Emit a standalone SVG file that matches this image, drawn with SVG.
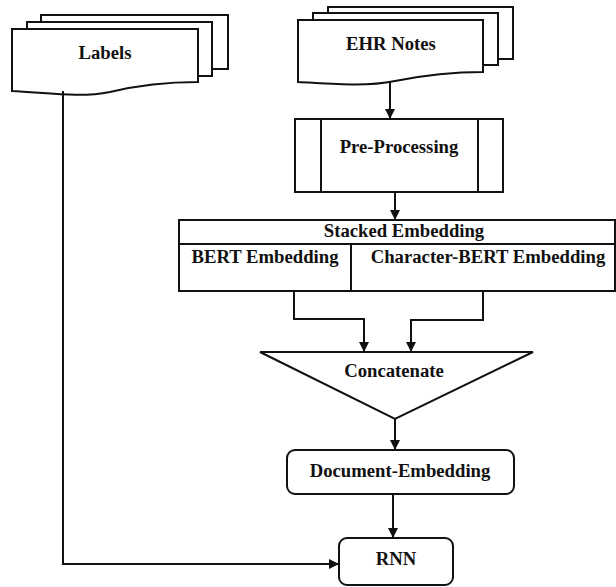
<svg xmlns="http://www.w3.org/2000/svg" width="616" height="587" viewBox="0 0 616 587">
<style>
.s{fill:#fff;stroke:#111;stroke-width:2}
.t{font-family:"Liberation Serif","Times New Roman",serif;font-weight:bold;font-size:18.7px;fill:#111;text-anchor:middle}
.c{fill:none;stroke:#111;stroke-width:2}
</style>
<defs>
<marker id="ah" viewBox="0 0 10 10" refX="10" refY="5" markerWidth="10" markerHeight="10" markerUnits="userSpaceOnUse" orient="auto">
<path d="M0,0 L10,5 L0,10 z" fill="#111"/>
</marker>
</defs>
<rect width="616" height="587" fill="#fff"/>
<g id="labels">
<rect class="s" x="41" y="15" width="187" height="54"/>
<rect class="s" x="27" y="22" width="185" height="54"/>
<path class="s" d="M12,29 H198 V82 C160,82 135,86 110,92 C80,98 50,93 12,91 Z"/>
<text class="t" x="105" y="59">Labels</text>
</g>
<g id="ehr">
<rect class="s" x="328" y="7" width="185" height="52"/>
<rect class="s" x="313" y="13" width="185" height="52"/>
<path class="s" d="M298,20 H483 V72 C445,72 420,76 395,81 C365,87 335,84 298,82 Z"/>
<text class="t" x="391" y="50">EHR Notes</text>
</g>
<g id="preprocessing">
<rect class="s" x="295" y="119" width="208" height="73"/>
<line class="c" x1="321" y1="119" x2="321" y2="192"/>
<line class="c" x1="478" y1="119" x2="478" y2="192"/>
<text class="t" x="399" y="153">Pre-Processing</text>
</g>
<g id="stacked">
<rect class="s" x="179" y="220" width="436" height="71"/>
<line class="c" x1="179" y1="244" x2="615" y2="244"/>
<line class="c" x1="351" y1="244" x2="351" y2="291"/>
<text class="t" x="404" y="237">Stacked Embedding</text>
<text class="t" x="265" y="263">BERT Embedding</text>
<text class="t" x="488" y="263">Character-BERT Embedding</text>
</g>
<g id="concatenate">
<path class="s" d="M260,352 H533 L395,419 Z"/>
<text class="t" x="394" y="377">Concatenate</text>
</g>
<g id="docemb">
<rect class="s" x="287" y="450" width="227" height="44" rx="8"/>
<text class="t" x="400" y="477">Document-Embedding</text>
</g>
<g id="rnn">
<rect class="s" x="339" y="538" width="114" height="47" rx="8"/>
<text class="t" x="396" y="565">RNN</text>
</g>
<g id="connectors">
<path class="c" d="M390,81 V119" marker-end="url(#ah)"/>
<path class="c" d="M395,192 V220" marker-end="url(#ah)"/>
<path class="c" d="M294,291 V319 H364 V352" marker-end="url(#ah)"/>
<path class="c" d="M483,291 V320 H411 V352" marker-end="url(#ah)"/>
<path class="c" d="M395,419 V450" marker-end="url(#ah)"/>
<path class="c" d="M393,494 V538" marker-end="url(#ah)"/>
<path class="c" d="M63,91 V564 H339" marker-end="url(#ah)"/>
</g>
</svg>
